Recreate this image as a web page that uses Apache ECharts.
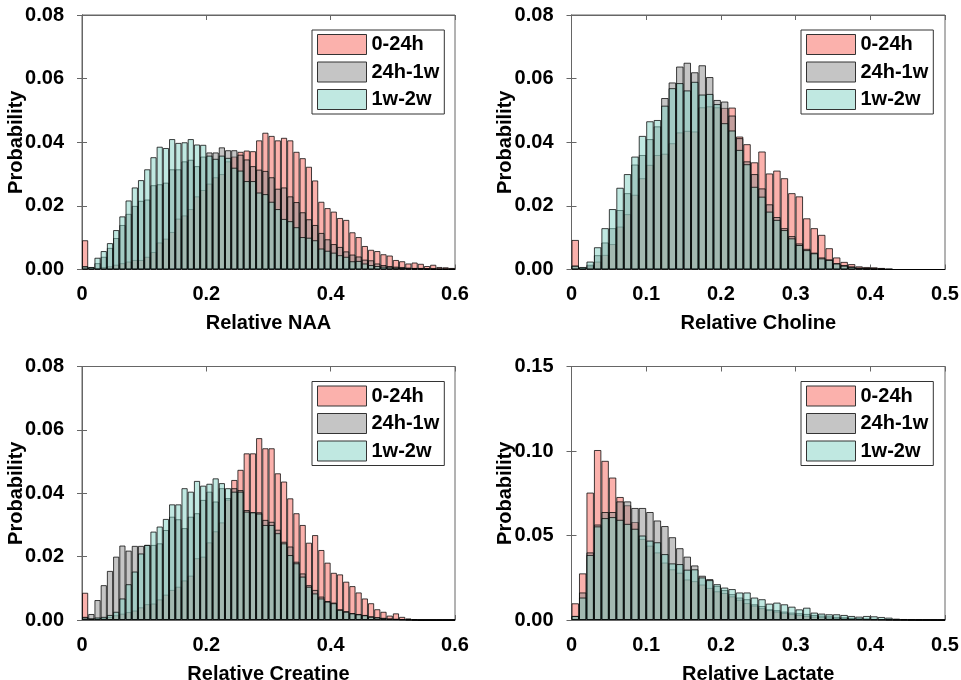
<!DOCTYPE html>
<html><head><meta charset="utf-8">
<script src="https://cdn.jsdelivr.net/npm/echarts@6/dist/echarts.min.js"></script>
<style>html,body{margin:0;padding:0;background:#fff}#c{width:961px;height:680px}</style>
</head><body><div id="c"></div>
<script>
const seriesNames = ['0-24h', '24h-1w', '1w-2w'];

// Relative NAA: 60 bins of width 0.01 from 0 to 0.6
const naaPink = [0.0092,0.0005,0.0005,0.0008,0.0010,0.0015,0.0020,0.0025,0.0030,0.0030,
  0.0040,0.0055,0.0085,0.0097,0.0118,0.0160,0.0170,0.0190,0.0230,0.0250,
  0.0270,0.0290,0.0300,0.0340,0.0355,0.0370,0.0374,0.0372,0.0406,0.0430,
  0.0420,0.0406,0.0414,0.0406,0.0370,0.0350,0.0323,0.0280,0.0213,0.0193,
  0.0182,0.0162,0.0156,0.0117,0.0102,0.0074,0.0062,0.0058,0.0048,0.0044,
  0.0030,0.0026,0.0019,0.0022,0.0018,0.0011,0.0015,0.0008,0.0007,0.0005];
const naaGray = [0.0010,0.0007,0.0020,0.0040,0.0068,0.0099,0.0140,0.0175,0.0200,0.0216,
  0.0220,0.0265,0.0268,0.0273,0.0315,0.0315,0.0340,0.0345,0.0325,0.0355,
  0.0368,0.0368,0.0384,0.0375,0.0375,0.0361,0.0346,0.0325,0.0314,0.0310,
  0.0290,0.0254,0.0258,0.0230,0.0212,0.0180,0.0158,0.0140,0.0115,0.0095,
  0.0080,0.0071,0.0057,0.0047,0.0041,0.0031,0.0029,0.0019,0.0014,0.0011,
  0.0009,0.0008,0.0006,0.0005,0.0005,0.0004,0.0003,0.0002,0.0002,0.0001];
const naaCyan = [0.0010,0.0008,0.0037,0.0058,0.0083,0.0124,0.0167,0.0217,0.0258,0.0281,
  0.0315,0.0353,0.0386,0.0382,0.0410,0.0398,0.0400,0.0410,0.0393,0.0392,
  0.0358,0.0348,0.0358,0.0351,0.0320,0.0311,0.0278,0.0278,0.0242,0.0237,
  0.0213,0.0190,0.0159,0.0152,0.0133,0.0102,0.0100,0.0092,0.0066,0.0059,
  0.0053,0.0045,0.0040,0.0026,0.0027,0.0019,0.0014,0.0011,0.0009,0.0007,
  0.0006,0.0005,0.0004,0.0003,0.0003,0.0002,0.0002,0.0001,0.0001,0.0001];

// Relative Choline: 50 bins of width 0.01 from 0 to 0.5
const chPink = [0.0093,0.0004,0.0010,0.0025,0.0046,0.0080,0.0135,0.0174,0.0235,0.0287,
  0.0329,0.0360,0.0364,0.0397,0.0431,0.0436,0.0434,0.0510,0.0513,0.0510,
  0.0508,0.0509,0.0418,0.0394,0.0337,0.0371,0.0302,0.0311,0.0287,0.0240,
  0.0230,0.0161,0.0130,0.0109,0.0067,0.0038,0.0024,0.0017,0.0010,0.0008,
  0.0007,0.0005,0.0002,0,0,0,0,0,0,0];
const chGray = [0.0012,0.0006,0.0015,0.0045,0.0085,0.0130,0.0187,0.0240,0.0330,0.0360,
  0.0410,0.0450,0.0539,0.0588,0.0638,0.0650,0.0620,0.0642,0.0605,0.0533,
  0.0528,0.0484,0.0413,0.0340,0.0300,0.0255,0.0205,0.0165,0.0130,0.0105,
  0.0082,0.0065,0.0053,0.0038,0.0032,0.0020,0.0014,0.0010,0.0006,0.0004,
  0.0003,0.0002,0.0001,0,0,0,0,0,0,0];
const chCyan = [0.0012,0.0008,0.0025,0.0070,0.0130,0.0190,0.0257,0.0300,0.0355,0.0420,
  0.0466,0.0470,0.0515,0.0570,0.0586,0.0563,0.0590,0.0550,0.0552,0.0520,
  0.0460,0.0437,0.0376,0.0331,0.0260,0.0229,0.0182,0.0156,0.0124,0.0098,
  0.0077,0.0061,0.0051,0.0035,0.0030,0.0019,0.0012,0.0008,0.0005,0.0003,
  0.0002,0.0001,0,0,0,0,0,0,0,0];

// Relative Creatine: 60 bins of width 0.01 from 0 to 0.6
const crPink = [0.0086,0.0005,0.0005,0.0007,0.0010,0.0015,0.0020,0.0025,0.0030,0.0040,
  0.0050,0.0052,0.0065,0.0080,0.0095,0.0105,0.0125,0.0140,0.0195,0.0200,
  0.0245,0.0280,0.0308,0.0380,0.0442,0.0474,0.0526,0.0526,0.0574,0.0542,
  0.0542,0.0463,0.0437,0.0384,0.0337,0.0300,0.0244,0.0268,0.0221,0.0181,
  0.0149,0.0144,0.0121,0.0107,0.0087,0.0068,0.0053,0.0034,0.0026,0.0014,
  0.0021,0.0010,0.0005,0.0002,0,0,0,0,0,0];
const crGray = [0.0010,0.0019,0.0063,0.0110,0.0155,0.0200,0.0235,0.0219,0.0234,0.0234,
  0.0237,0.0237,0.0242,0.0284,0.0326,0.0318,0.0290,0.0326,0.0337,0.0379,
  0.0405,0.0374,0.0416,0.0385,0.0416,0.0410,0.0347,0.0340,0.0340,0.0316,
  0.0310,0.0285,0.0247,0.0232,0.0184,0.0147,0.0110,0.0095,0.0074,0.0060,
  0.0055,0.0034,0.0028,0.0022,0.0019,0.0016,0.0012,0.0009,0.0007,0.0005,
  0.0004,0.0003,0.0002,0.0001,0,0,0,0,0,0];
const crCyan = [0.0008,0.0005,0.0008,0.0010,0.0016,0.0026,0.0068,0.0113,0.0153,0.0210,
  0.0237,0.0279,0.0295,0.0319,0.0365,0.0365,0.0416,0.0405,0.0439,0.0424,
  0.0430,0.0447,0.0432,0.0416,0.0405,0.0405,0.0342,0.0340,0.0336,0.0300,
  0.0300,0.0274,0.0242,0.0205,0.0179,0.0137,0.0105,0.0084,0.0068,0.0058,
  0.0053,0.0032,0.0026,0.0021,0.0018,0.0015,0.0010,0.0008,0.0006,0.0004,
  0.0003,0.0002,0.0001,0,0,0,0,0,0,0];

// Relative Lactate: 50 bins of width 0.01 from 0 to 0.5
const laPink = [0.0099,0.0276,0.0754,0.1006,0.0942,0.0843,0.0728,0.0679,0.0580,0.0480,
  0.0440,0.0400,0.0340,0.0300,0.0280,0.0240,0.0230,0.0210,0.0190,0.0170,
  0.0160,0.0140,0.0120,0.0100,0.0085,0.0070,0.0060,0.0050,0.0042,0.0035,
  0.0030,0.0025,0.0020,0.0017,0.0014,0.0012,0.0010,0.0008,0.0006,0.0005,
  0.0004,0.0003,0.0002,0.0001,0.0001,0,0,0,0,0];
const laGray = [0.0024,0.0163,0.0400,0.0565,0.0639,0.0639,0.0702,0.0702,0.0663,0.0663,
  0.0639,0.0589,0.0556,0.0490,0.0425,0.0375,0.0323,0.0262,0.0242,0.0202,
  0.0177,0.0153,0.0133,0.0123,0.0093,0.0083,0.0063,0.0058,0.0050,0.0044,
  0.0040,0.0036,0.0030,0.0026,0.0022,0.0019,0.0016,0.0013,0.0011,0.0009,
  0.0007,0.0006,0.0004,0.0003,0.0002,0.0002,0.0001,0.0001,0.0001,0];
const laCyan = [0.0024,0.0133,0.0385,0.0554,0.0603,0.0609,0.0593,0.0569,0.0540,0.0500,
  0.0470,0.0460,0.0390,0.0335,0.0331,0.0298,0.0300,0.0252,0.0236,0.0212,
  0.0192,0.0183,0.0163,0.0163,0.0133,0.0123,0.0097,0.0103,0.0093,0.0079,
  0.0063,0.0073,0.0044,0.0038,0.0034,0.0034,0.0030,0.0024,0.0020,0.0024,
  0.0022,0.0018,0.0014,0.0008,0.0006,0.0003,0.0002,0.0001,0,0];

const panels = [
  {title: 'Relative NAA', data: [naaPink, naaGray, naaCyan], xMax: 0.6, xStep: 0.2, yMax: 0.08, yStep: 0.02,
   left: 82, top: 15, width: 373, height: 254.5, legLeft: 312, legTop: 30},
  {title: 'Relative Choline', data: [chPink, chGray, chCyan], xMax: 0.5, xStep: 0.1, yMax: 0.08, yStep: 0.02,
   left: 571.5, top: 15, width: 373.5, height: 254.5, legLeft: 801, legTop: 30},
  {title: 'Relative Creatine', data: [crPink, crGray, crCyan], xMax: 0.6, xStep: 0.2, yMax: 0.08, yStep: 0.02,
   left: 82, top: 366.5, width: 373, height: 253.5, legLeft: 312, legTop: 381.5},
  {title: 'Relative Lactate', data: [laPink, laGray, laCyan], xMax: 0.5, xStep: 0.1, yMax: 0.15, yStep: 0.05,
   left: 571.5, top: 366.5, width: 373.5, height: 253.5, legLeft: 801, legTop: 381.5}
];

const FONT = '"Liberation Sans", Arial, sans-serif';
const fills = ['rgba(248,100,90,0.5)', 'rgba(140,140,140,0.5)', 'rgba(130,210,195,0.5)'];
const edge = 'rgba(0,0,0,0.75)';
const axisCol = '#666';
const txt = {color: '#000', fontFamily: FONT, fontWeight: 'bold', fontSize: 20};

const grid = [], xAxis = [], yAxis = [], series = [], legend = [];
panels.forEach((p, g) => {
  grid.push({left: p.left, top: p.top, width: p.width, height: p.height, show: true,
    outerBoundsMode: 'none', containLabel: false,
    borderColor: axisCol, borderWidth: 1, backgroundColor: 'transparent'});
  const catIdx = xAxis.length;
  const bins = p.data[0].map((_, i) => i);
  xAxis.push({type: 'category', gridIndex: g, data: bins, show: false, boundaryGap: true});
  xAxis.push({type: 'value', gridIndex: g, position: 'bottom', min: 0, max: p.xMax, interval: p.xStep,
    axisLine: {show: true, lineStyle: {color: axisCol}},
    axisTick: {show: true, inside: true, length: 5, lineStyle: {color: axisCol}},
    splitLine: {show: false},
    axisLabel: Object.assign({margin: 15, formatter: v => v === 0 ? '0' : v.toFixed(1)}, txt),
    name: p.title, nameLocation: 'middle', nameGap: 44, nameMoveOverlap: false, nameTextStyle: txt});
  xAxis.push({type: 'value', gridIndex: g, position: 'top', min: 0, max: p.xMax, interval: p.xStep,
    axisLine: {show: true, lineStyle: {color: axisCol}},
    axisTick: {show: true, inside: true, length: 5, lineStyle: {color: axisCol}},
    splitLine: {show: false}, axisLabel: {show: false}});
  const yIdx = yAxis.length;
  yAxis.push({type: 'value', gridIndex: g, position: 'left', min: 0, max: p.yMax, interval: p.yStep,
    axisLine: {show: true, lineStyle: {color: axisCol}},
    axisTick: {show: true, inside: true, length: 5, lineStyle: {color: axisCol}},
    splitLine: {show: false},
    axisLabel: Object.assign({margin: 18, formatter: v => v.toFixed(2)}, txt),
    name: 'Probability', nameLocation: 'middle', nameGap: 56, nameMoveOverlap: false, nameTextStyle: txt});
  yAxis.push({type: 'value', gridIndex: g, position: 'right', min: 0, max: p.yMax, interval: p.yStep,
    axisLine: {show: true, lineStyle: {color: axisCol}},
    axisTick: {show: true, inside: true, length: 5, lineStyle: {color: axisCol}},
    splitLine: {show: false}, axisLabel: {show: false}});
  p.data.forEach((arr, s) => {
    series.push({type: 'bar', name: seriesNames[s], xAxisIndex: catIdx, yAxisIndex: yIdx,
      data: arr, barGap: '-100%', barCategoryGap: '0%',
      itemStyle: {color: fills[s], borderColor: edge, borderWidth: 1},
      emphasis: {disabled: true}, silent: true});
  });
  legend.push({orient: 'vertical', left: p.legLeft, top: p.legTop, icon: 'rect',
    itemWidth: 49, itemHeight: 20, itemGap: 6.5, padding: [4, 5, 4, 5],
    borderColor: '#333', borderWidth: 1, backgroundColor: '#fff', selectedMode: false,
    textStyle: txt,
    data: seriesNames.map((n, s) => ({name: n, icon: 'rect',
      itemStyle: {color: fills[s], borderColor: '#333', borderWidth: 1}}))});
});

const chart = echarts.init(document.getElementById('c'), null, {renderer: 'canvas'});
chart.setOption({animation: false, backgroundColor: '#fff', grid, xAxis, yAxis, series, legend});
</script></body></html>
